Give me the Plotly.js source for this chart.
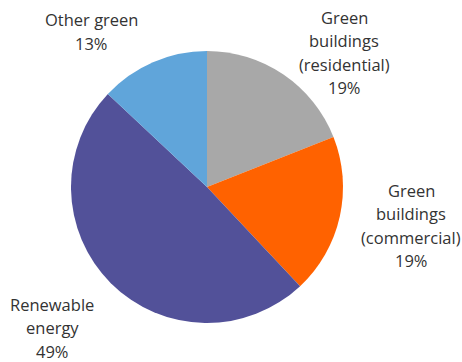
<!DOCTYPE html>
<html>
<head>
<meta charset="utf-8">
<script src="https://cdn.plot.ly/plotly-3.0.1.min.js"></script>
<style>html,body{margin:0;padding:0;background:#fff;}#chart{width:462px;height:362px;}</style>
</head>
<body>
<div id="chart"></div>
<script>
// Data
var categories = ['Green buildings (residential)', 'Green buildings (commercial)', 'Renewable energy', 'Other green'];
var shares = [19, 19, 49, 13];
var labelLines = [
  ['Green', 'buildings', '(residential)'],
  ['Green', 'buildings', '(commercial)'],
  ['Renewable', 'energy'],
  ['Other green']
];
var colors = ['#A8A8A8', '#FF6200', '#525199', '#60A5DA'];

// Label placement (pixels in a 462x362 frame): centre x, first line y
var labelPos = [[344, 17], [411, 190], [52, 304], [91, 20]];
var lineStep = 23.5;
var W = 462, H = 362;

var annotations = [];
categories.forEach(function (c, i) {
  var lines = labelLines[i].concat([shares[i] + '%']);
  lines.forEach(function (t, j) {
    annotations.push({
      text: t,
      xref: 'paper', yref: 'paper',
      x: labelPos[i][0] / W,
      y: 1 - (labelPos[i][1] + j * lineStep) / H,
      xanchor: 'center', yanchor: 'middle',
      showarrow: false,
      font: {family: 'Open Sans, sans-serif', size: 16.5, color: '#333333'}
    });
  });
});

var trace = {
  type: 'pie',
  labels: categories,
  values: shares,
  sort: false,
  direction: 'clockwise',
  rotation: 0,
  marker: {colors: colors, line: {width: 0}},
  textinfo: 'none',
  hoverinfo: 'label+percent',
  domain: {x: [71 / W, 343 / W], y: [1 - 323 / H, 1 - 51 / H]},
  showlegend: false
};

var layout = {
  width: W, height: H,
  margin: {l: 0, r: 0, t: 0, b: 0},
  paper_bgcolor: '#ffffff',
  plot_bgcolor: '#ffffff',
  showlegend: false,
  annotations: annotations
};

Plotly.newPlot('chart', [trace], layout, {displayModeBar: false, staticPlot: true});
</script>
</body>
</html>
